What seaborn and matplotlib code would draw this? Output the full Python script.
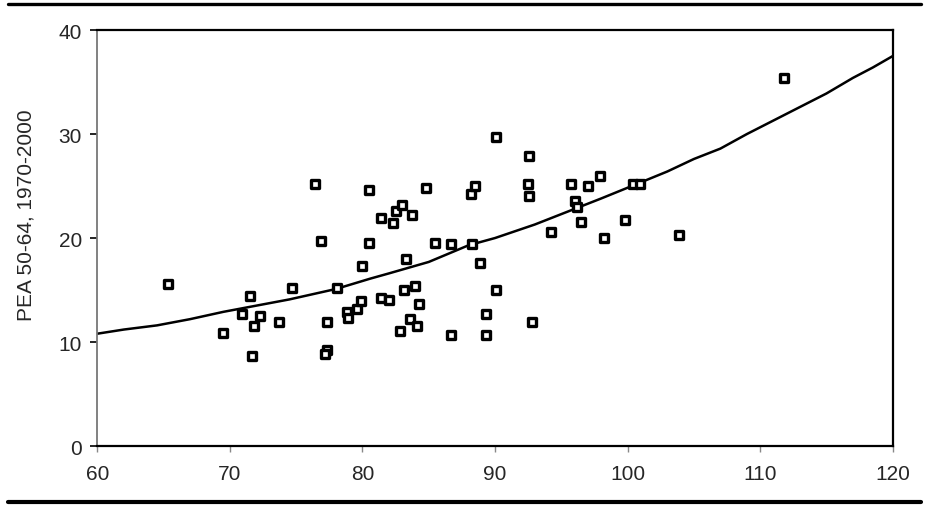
import matplotlib
matplotlib.use("Agg")
import matplotlib.pyplot as plt
from matplotlib.lines import Line2D
import seaborn as sns
import pandas as pd

# Scatter: life expectancy-like index (x) vs PEA 50-64 (y)
x_vals = [65.3, 69.5, 70.9, 71.5, 72.3, 71.8, 71.7, 73.7, 74.7, 76.4,
          76.9, 77.3, 77.3, 77.2, 78.1, 78.8, 78.9, 79.6, 79.9, 80.0,
          80.5, 80.5, 81.4, 81.4, 82.0, 82.3, 82.5, 83.0, 83.7, 83.3,
          83.1, 84.0, 84.3, 83.6, 82.8, 84.1, 84.8, 85.5, 86.7, 86.7,
          88.2, 88.5, 88.3, 88.9, 89.3, 89.3, 90.1, 90.1, 92.6, 92.5,
          92.6, 92.8, 94.2, 95.7, 96.0, 96.2, 96.5, 97.0, 97.9, 98.2,
          99.8, 100.4, 100.9, 103.9, 111.8]
y_vals = [15.6, 10.9, 12.7, 14.4, 12.5, 11.5, 8.7, 11.9, 15.2, 25.2,
          19.7, 11.9, 9.2, 8.8, 15.2, 12.9, 12.3, 13.2, 13.9, 17.3,
          24.6, 19.5, 21.9, 14.2, 14.0, 21.4, 22.6, 23.2, 22.2, 18.0,
          15.0, 15.4, 13.7, 12.2, 11.1, 11.5, 24.8, 19.5, 19.4, 10.7,
          24.2, 25.0, 19.4, 17.6, 12.7, 10.7, 29.7, 15.0, 27.9, 25.2,
          24.0, 11.9, 20.6, 25.2, 23.6, 23.0, 21.5, 25.0, 26.0, 20.0,
          21.7, 25.2, 25.2, 20.3, 35.4]

# fitted curve
fit_x = [60, 62, 64.5, 67, 69.5, 72, 74.5, 78, 80.6, 82, 85, 88, 90, 93,
         96, 98, 100.7, 103, 105, 107, 109, 111, 113, 115, 117, 118.5, 120]
fit_y = [10.8, 11.2, 11.6, 12.2, 12.9, 13.5, 14.1, 15.1, 16.1, 16.6, 17.7,
         19.3, 20.0, 21.3, 22.8, 23.8, 25.2, 26.4, 27.6, 28.6, 30.0, 31.3,
         32.6, 33.9, 35.4, 36.4, 37.5]

pts = pd.DataFrame({"x": x_vals, "y": y_vals})
fit = pd.DataFrame({"x": fit_x, "y": fit_y})

sns.set_style("white")
plt.rcParams["font.family"] = ["Liberation Sans", "DejaVu Sans"]

fig = plt.figure(figsize=(9.27, 5.06), dpi=100)
ax = fig.add_axes([0.105, 0.1166, 0.858, 0.822])

sns.lineplot(data=fit, x="x", y="y", ax=ax, color="black", linewidth=1.8,
             zorder=2)
sns.scatterplot(data=pts, x="x", y="y", ax=ax, marker="s", s=36,
                facecolor="white", edgecolor="black", linewidth=2.4, zorder=3)

ax.set_xlim(60, 120)
ax.set_ylim(0, 40)
ax.set_xticks(range(60, 121, 10))
ax.set_yticks(range(0, 41, 10))
ax.tick_params(axis="both", labelsize=15, direction="out", left=True,
               bottom=True)
ax.tick_params(axis="x", length=4, width=1, color="#888888", pad=9)
ax.tick_params(axis="y", length=5, width=1.2, color="black", pad=6)

ax.set_xlabel("")
ax.set_ylabel("PEA 50-64, 1970-2000", fontsize=15)
ax.yaxis.set_label_coords(-0.078, 0.558)

for side in ["top", "right", "bottom"]:
    ax.spines[side].set_color("black")
    ax.spines[side].set_linewidth(1.6)
ax.spines["left"].set_color("#777777")
ax.spines["left"].set_linewidth(1.3)

# thick rules above and below the chart
fig.add_artist(Line2D([0.009, 0.993], [0.990, 0.990], color="black",
                      linewidth=2.4, transform=fig.transFigure))
fig.add_artist(Line2D([0.009, 0.993], [0.006, 0.006], color="black",
                      linewidth=3.0, transform=fig.transFigure))

fig.savefig("out.png", dpi=100)
plt.close(fig)
